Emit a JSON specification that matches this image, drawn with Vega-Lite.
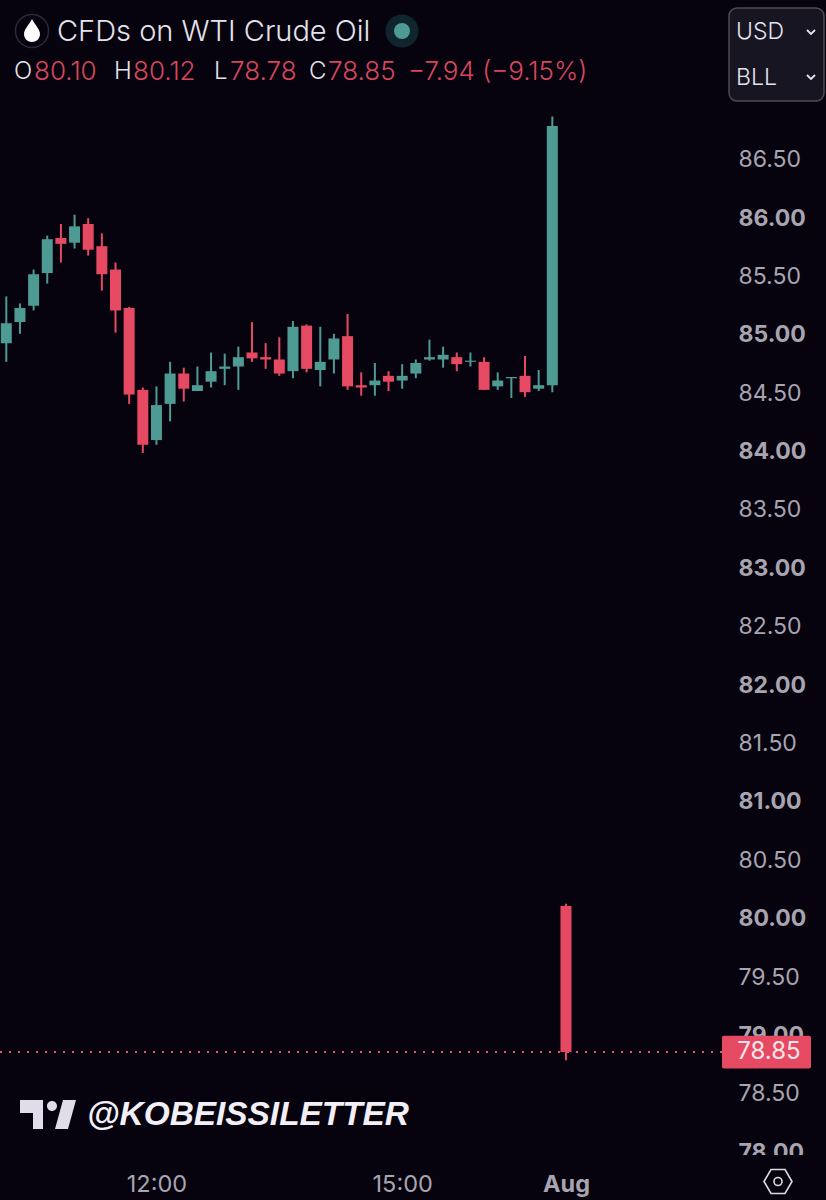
{
  "$schema": "https://vega.github.io/schema/vega-lite/v6.json",
  "width": 722,
  "height": 1155,
  "autosize": "none",
  "padding": {"left": 0, "top": 0, "right": 104, "bottom": 45},
  "background": "#06030f",
  "config": {"view": {"stroke": null}, "text": {"font": "Inter"}, "axis": {"labelFont": "Inter"}},
  "datasets": {
    "candles": [
      {"time": "2024-07-31T10:10:00Z", "open": 84.92, "high": 85.32, "low": 84.76, "close": 85.09},
      {"time": "2024-07-31T10:20:00Z", "open": 85.10, "high": 85.26, "low": 85.00, "close": 85.22},
      {"time": "2024-07-31T10:30:00Z", "open": 85.24, "high": 85.55, "low": 85.20, "close": 85.51},
      {"time": "2024-07-31T10:40:00Z", "open": 85.52, "high": 85.84, "low": 85.43, "close": 85.81},
      {"time": "2024-07-31T10:50:00Z", "open": 85.82, "high": 85.94, "low": 85.61, "close": 85.77},
      {"time": "2024-07-31T11:00:00Z", "open": 85.78, "high": 86.02, "low": 85.73, "close": 85.92},
      {"time": "2024-07-31T11:10:00Z", "open": 85.94, "high": 85.99, "low": 85.67, "close": 85.72},
      {"time": "2024-07-31T11:20:00Z", "open": 85.75, "high": 85.86, "low": 85.37, "close": 85.51},
      {"time": "2024-07-31T11:30:00Z", "open": 85.55, "high": 85.61, "low": 85.01, "close": 85.20},
      {"time": "2024-07-31T11:40:00Z", "open": 85.22, "high": 85.23, "low": 84.40, "close": 84.48},
      {"time": "2024-07-31T11:50:00Z", "open": 84.52, "high": 84.54, "low": 83.98, "close": 84.05},
      {"time": "2024-07-31T12:00:00Z", "open": 84.09, "high": 84.55, "low": 84.05, "close": 84.39},
      {"time": "2024-07-31T12:10:00Z", "open": 84.40, "high": 84.76, "low": 84.25, "close": 84.66},
      {"time": "2024-07-31T12:20:00Z", "open": 84.66, "high": 84.71, "low": 84.42, "close": 84.53},
      {"time": "2024-07-31T12:30:00Z", "open": 84.51, "high": 84.72, "low": 84.51, "close": 84.56},
      {"time": "2024-07-31T12:40:00Z", "open": 84.59, "high": 84.84, "low": 84.54, "close": 84.68},
      {"time": "2024-07-31T12:50:00Z", "open": 84.70, "high": 84.83, "low": 84.56, "close": 84.72},
      {"time": "2024-07-31T13:00:00Z", "open": 84.72, "high": 84.89, "low": 84.52, "close": 84.80},
      {"time": "2024-07-31T13:10:00Z", "open": 84.84, "high": 85.10, "low": 84.76, "close": 84.79},
      {"time": "2024-07-31T13:20:00Z", "open": 84.80, "high": 84.92, "low": 84.70, "close": 84.78},
      {"time": "2024-07-31T13:30:00Z", "open": 84.78, "high": 84.97, "low": 84.64, "close": 84.66},
      {"time": "2024-07-31T13:40:00Z", "open": 84.68, "high": 85.11, "low": 84.62, "close": 85.06},
      {"time": "2024-07-31T13:50:00Z", "open": 85.07, "high": 85.08, "low": 84.67, "close": 84.70},
      {"time": "2024-07-31T14:00:00Z", "open": 84.69, "high": 85.06, "low": 84.55, "close": 84.76},
      {"time": "2024-07-31T14:10:00Z", "open": 84.78, "high": 85.00, "low": 84.66, "close": 84.96},
      {"time": "2024-07-31T14:20:00Z", "open": 84.98, "high": 85.17, "low": 84.52, "close": 84.55},
      {"time": "2024-07-31T14:30:00Z", "open": 84.56, "high": 84.67, "low": 84.47, "close": 84.54},
      {"time": "2024-07-31T14:40:00Z", "open": 84.56, "high": 84.75, "low": 84.47, "close": 84.60},
      {"time": "2024-07-31T14:50:00Z", "open": 84.64, "high": 84.68, "low": 84.51, "close": 84.59},
      {"time": "2024-07-31T15:00:00Z", "open": 84.60, "high": 84.74, "low": 84.53, "close": 84.64},
      {"time": "2024-07-31T15:10:00Z", "open": 84.66, "high": 84.78, "low": 84.62, "close": 84.75},
      {"time": "2024-07-31T15:20:00Z", "open": 84.78, "high": 84.95, "low": 84.77, "close": 84.80},
      {"time": "2024-07-31T15:30:00Z", "open": 84.78, "high": 84.89, "low": 84.71, "close": 84.82},
      {"time": "2024-07-31T15:40:00Z", "open": 84.80, "high": 84.84, "low": 84.68, "close": 84.74},
      {"time": "2024-07-31T15:50:00Z", "open": 84.76, "high": 84.84, "low": 84.72, "close": 84.77},
      {"time": "2024-07-31T16:00:00Z", "open": 84.76, "high": 84.80, "low": 84.52, "close": 84.52},
      {"time": "2024-07-31T16:10:00Z", "open": 84.55, "high": 84.67, "low": 84.52, "close": 84.60},
      {"time": "2024-07-31T16:20:00Z", "open": 84.62, "high": 84.63, "low": 84.45, "close": 84.63},
      {"time": "2024-07-31T16:30:00Z", "open": 84.64, "high": 84.81, "low": 84.46, "close": 84.50},
      {"time": "2024-07-31T16:40:00Z", "open": 84.53, "high": 84.69, "low": 84.51, "close": 84.56},
      {"time": "2024-07-31T16:50:00Z", "open": 84.56, "high": 86.86, "low": 84.50, "close": 86.78},
      {"time": "2024-07-31T17:00:00Z", "open": 80.10, "high": 80.12, "low": 78.78, "close": 78.85}
    ]
  },
  "layer": [
    {
      "data": {"values": [{"last": 78.85}]},
      "mark": {"type": "rule", "color": "#f0506c", "strokeWidth": 2, "strokeDash": [2, 7]},
      "encoding": {
        "y": {
          "field": "last",
          "type": "quantitative",
          "title": null,
          "scale": {"domain": [77.969, 87.858], "nice": false, "zero": false},
          "axis": {
            "orient": "right",
            "values": [78, 78.5, 79, 79.5, 80, 80.5, 81, 81.5, 82, 82.5, 83, 83.5, 84, 84.5, 85, 85.5, 86, 86.5],
            "format": ".2f",
            "domain": false,
            "ticks": false,
            "grid": false,
            "labelPadding": 16,
            "labelOffset": 1,
            "labelFontSize": 23,
            "labelColor": "#a8a5b0",
            "labelFontWeight": {"condition": {"test": "datum.value % 1 === 0", "value": 700}, "value": 400}
          }
        }
      }
    },
    {
      "data": {"name": "candles"},
      "mark": {"type": "rule", "strokeWidth": 2},
      "encoding": {
        "x": {
          "field": "time",
          "type": "temporal",
          "title": null,
          "scale": {"type": "utc", "nice": false, "padding": 0, "domain": ["2024-07-31T10:05:23Z", "2024-07-31T18:54:18Z"]},
          "axis": {
            "values": ["2024-07-31T12:00:00Z", "2024-07-31T15:00:00Z", "2024-07-31T17:00:00Z"],
            "labelExpr": "utchours(datum.value) === 17 ? 'Aug' : utcFormat(datum.value, '%H:%M')",
            "domain": false,
            "ticks": false,
            "grid": false,
            "labelPadding": 17,
            "labelFontSize": 23.5,
            "labelColor": "#a8a5b0",
            "labelFontWeight": {"condition": {"test": "utchours(datum.value) === 17", "value": 700}, "value": 400}
          }
        },
        "y": {"field": "low", "type": "quantitative"},
        "y2": {"field": "high"},
        "color": {"condition": {"test": "datum.close >= datum.open", "value": "#4e9b94"}, "value": "#e64a63"}
      }
    },
    {
      "data": {"name": "candles"},
      "mark": {"type": "bar", "width": 11, "orient": "vertical"},
      "encoding": {
        "x": {"field": "time", "type": "temporal"},
        "y": {"field": "open", "type": "quantitative"},
        "y2": {"field": "close"},
        "color": {"condition": {"test": "datum.close >= datum.open", "value": "#4e9b94"}, "value": "#e64a63"}
      }
    },
    {
      "data": {"values": [{}]},
      "mark": {"type": "rect", "x": 722, "x2": 826, "y": 1155, "y2": 1170, "fill": "#06030f"},
      "encoding": {}
    },
    {
      "data": {"values": [{}]},
      "mark": {"type": "rect", "x": 722, "x2": 811, "cornerRadius": 2, "fill": "#e64a63"},
      "encoding": {"y": {"datum": 78.99}, "y2": {"datum": 78.71}}
    },
    {
      "data": {"values": [{"last": "78.85", "price": 78.85}]},
      "mark": {"type": "text", "x": 769, "fontSize": 24, "color": "#f6e6ea", "align": "center", "baseline": "middle"},
      "encoding": {"y": {"field": "price", "type": "quantitative"}, "text": {"field": "last"}}
    },
    {
      "data": {"values": [{}]},
      "mark": {"type": "point", "x": 32, "y": 31, "shape": "circle", "size": 1089, "filled": false, "stroke": "#2b2a3a", "strokeWidth": 1.5, "opacity": 1},
      "encoding": {}
    },
    {
      "data": {"values": [{}]},
      "mark": {"type": "point", "x": 32, "y": 31, "size": 4, "filled": true, "fill": "#ffffff", "opacity": 1, "shape": "M0 -12 C3 -6 8 -2 8 3 C8 8 4 11 0 11 C-4 11 -8 8 -8 3 C-8 -2 -3 -6 0 -12 Z"},
      "encoding": {}
    },
    {
      "data": {"values": [{}]},
      "mark": {"type": "text", "x": 57, "y": 32, "text": "CFDs on WTI Crude Oil", "fontSize": 29, "fontWeight": 300, "color": "#e4e2ea", "align": "left", "baseline": "middle"},
      "encoding": {}
    },
    {
      "data": {"values": [{}]},
      "mark": {"type": "point", "x": 402, "y": 31, "shape": "circle", "size": 1089, "filled": true, "fill": "#10262c", "opacity": 1},
      "encoding": {}
    },
    {
      "data": {"values": [{}]},
      "mark": {"type": "point", "x": 402, "y": 31, "shape": "circle", "size": 256, "filled": true, "fill": "#4e9b94", "opacity": 1},
      "encoding": {}
    },
    {"data": {"values": [{}]}, "mark": {"type": "text", "x": 14, "y": 72, "text": "O", "fontSize": 24, "fontWeight": 300, "color": "#e4e2ea", "align": "left", "baseline": "middle"}, "encoding": {}},
    {"data": {"values": [{}]}, "mark": {"type": "text", "x": 34, "y": 72, "text": "80.10", "fontSize": 26, "fontWeight": 300, "color": "#d8465e", "align": "left", "baseline": "middle"}, "encoding": {}},
    {"data": {"values": [{}]}, "mark": {"type": "text", "x": 114, "y": 72, "text": "H", "fontSize": 24, "fontWeight": 300, "color": "#e4e2ea", "align": "left", "baseline": "middle"}, "encoding": {}},
    {"data": {"values": [{}]}, "mark": {"type": "text", "x": 133, "y": 72, "text": "80.12", "fontSize": 26, "fontWeight": 300, "color": "#d8465e", "align": "left", "baseline": "middle"}, "encoding": {}},
    {"data": {"values": [{}]}, "mark": {"type": "text", "x": 214, "y": 72, "text": "L", "fontSize": 24, "fontWeight": 300, "color": "#e4e2ea", "align": "left", "baseline": "middle"}, "encoding": {}},
    {"data": {"values": [{}]}, "mark": {"type": "text", "x": 230, "y": 72, "text": "78.78", "fontSize": 26, "fontWeight": 300, "color": "#d8465e", "align": "left", "baseline": "middle"}, "encoding": {}},
    {"data": {"values": [{}]}, "mark": {"type": "text", "x": 309, "y": 72, "text": "C", "fontSize": 24, "fontWeight": 300, "color": "#e4e2ea", "align": "left", "baseline": "middle"}, "encoding": {}},
    {"data": {"values": [{}]}, "mark": {"type": "text", "x": 328, "y": 72, "text": "78.85", "fontSize": 26, "fontWeight": 300, "color": "#d8465e", "align": "left", "baseline": "middle"}, "encoding": {}},
    {"data": {"values": [{}]}, "mark": {"type": "text", "x": 408, "y": 72, "text": "−7.94 (−9.15%)", "fontSize": 26, "fontWeight": 300, "color": "#d8465e", "align": "left", "baseline": "middle"}, "encoding": {}},
    {
      "data": {"values": [{}]},
      "mark": {"type": "rect", "x": 729, "x2": 824, "y": 8, "y2": 101, "cornerRadius": 8, "fill": "#161521", "stroke": "#4c4b57", "strokeWidth": 1.5},
      "encoding": {}
    },
    {"data": {"values": [{}]}, "mark": {"type": "text", "x": 736, "y": 32, "text": "USD", "fontSize": 23, "fontWeight": 300, "color": "#e4e2ea", "align": "left", "baseline": "middle"}, "encoding": {}},
    {"data": {"values": [{}]}, "mark": {"type": "text", "x": 736, "y": 78, "text": "BLL", "fontSize": 23, "fontWeight": 300, "color": "#e4e2ea", "align": "left", "baseline": "middle"}, "encoding": {}},
    {"data": {"values": [{}]}, "mark": {"type": "point", "x": 811, "y": 32, "size": 4, "filled": false, "stroke": "#e4e2ea", "strokeWidth": 1.8, "opacity": 1, "shape": "M-4 -2 L0 2 L4 -2"}, "encoding": {}},
    {"data": {"values": [{}]}, "mark": {"type": "point", "x": 811, "y": 77, "size": 4, "filled": false, "stroke": "#e4e2ea", "strokeWidth": 1.8, "opacity": 1, "shape": "M-4 -2 L0 2 L4 -2"}, "encoding": {}},
    {
      "data": {"values": [{}]},
      "mark": {"type": "point", "x": 48, "y": 1114, "size": 4, "filled": true, "fill": "#e0dcea", "opacity": 1, "shape": "M-28 -14 L-5 -14 L-5 15 L-15 15 L-15 -1 L-28 -1 Z M9 -8 A5 5 0 1 1 -1 -8 A5 5 0 1 1 9 -8 Z M15 -14 L28 -14 L20 15 L7 15 Z"},
      "encoding": {}
    },
    {
      "data": {"values": [{}]},
      "mark": {"type": "text", "x": 87, "y": 1115, "text": "@KOBEISSILETTER", "font": "Liberation Sans", "fontSize": 33.4, "fontWeight": 700, "fontStyle": "italic", "color": "#f2f0f6", "align": "left", "baseline": "middle"},
      "encoding": {}
    },
    {
      "data": {"values": [{}]},
      "mark": {"type": "point", "x": 778, "y": 1181.5, "size": 4, "filled": false, "stroke": "#dcdae2", "strokeWidth": 1.6, "opacity": 1, "shape": "M-14 0 L-7 -12 L7 -12 L14 0 L7 12 L-7 12 Z M4 0 A4 4 0 1 1 -4 0 A4 4 0 1 1 4 0 Z"},
      "encoding": {}
    }
  ]
}
